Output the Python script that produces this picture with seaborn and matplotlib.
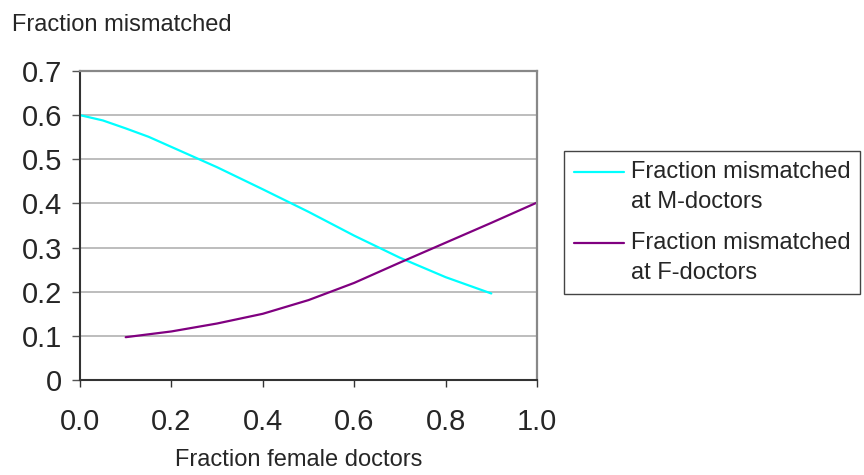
import numpy as np
import pandas as pd
import matplotlib
matplotlib.use("Agg")
import matplotlib.pyplot as plt
import seaborn as sns

# ---- data ----
x_male = [0.0, 0.05, 0.1, 0.15, 0.2, 0.25, 0.3, 0.4, 0.5, 0.6, 0.7, 0.8, 0.9]
mismatch_male = [0.600, 0.588, 0.570, 0.551, 0.528, 0.505, 0.482, 0.432, 0.381, 0.327, 0.277, 0.233, 0.196]
x_female = [0.1, 0.2, 0.3, 0.4, 0.5, 0.6, 0.7, 0.8, 0.9, 1.0]
mismatch_female = [0.097, 0.110, 0.128, 0.150, 0.181, 0.220, 0.266, 0.311, 0.356, 0.402]
series_labels = ["Fraction mismatched\nat M-doctors", "Fraction mismatched\nat F-doctors"]
x_ticks = [0.0, 0.2, 0.4, 0.6, 0.8, 1.0]
x_tick_labels = ["0.0", "0.2", "0.4", "0.6", "0.8", "1.0"]
y_ticks = [0.0, 0.1, 0.2, 0.3, 0.4, 0.5, 0.6, 0.7]
y_tick_labels = ["0", "0.1", "0.2", "0.3", "0.4", "0.5", "0.6", "0.7"]
title_text = "Fraction mismatched"
x_label = "Fraction female doctors"

sns.set_style("white")
plt.rcParams["font.family"] = ["Liberation Sans", "DejaVu Sans"]

df_m = pd.DataFrame({"x": x_male, "y": mismatch_male})
df_f = pd.DataFrame({"x": x_female, "y": mismatch_female})

fig = plt.figure(figsize=(8.64, 4.75), dpi=100)
W, H = 864, 475
ax = fig.add_axes([80 / W, 1 - 380 / H, 457 / W, 309 / H])

sns.lineplot(data=df_m, x="x", y="y", ax=ax, color="#00FFFF", linewidth=1.6, label=series_labels[0])
sns.lineplot(data=df_f, x="x", y="y", ax=ax, color="#800080", linewidth=1.6, label=series_labels[1])

ax.set_xlim(0, 1)
ax.set_ylim(0, 0.7)
ax.set_xticks(x_ticks)
ax.set_xticklabels(x_tick_labels)
ax.set_yticks(y_ticks)
ax.set_yticklabels(y_tick_labels)
ax.set_ylabel("")
ax.set_xlabel(x_label, fontsize=17, labelpad=9)
ax.xaxis.label.set_x((299 - 80) / 457)
ax.grid(axis="y", color="#b8b8b8", linewidth=1.3)
ax.set_axisbelow(True)
for s in ["left", "bottom"]:
    ax.spines[s].set_color("#333333")
    ax.spines[s].set_linewidth(1.5)
for s in ["top", "right"]:
    ax.spines[s].set_color("#888888")
    ax.spines[s].set_linewidth(1.6)
ax.tick_params(axis="y", direction="out", length=6, width=1, color="#555555",
               labelsize=21, pad=7, left=True)
ax.tick_params(axis="x", direction="out", length=5, width=1, color="#333333",
               labelsize=21, pad=15.5, bottom=True)

fig.text(12 / W, 1 - 30.7 / H, title_text, fontsize=17, ha="left", va="baseline")

handles, labels = ax.get_legend_handles_labels()
if ax.legend_ is not None:
    ax.legend_.remove()
LS = 1.47
leg = fig.legend(handles, labels, loc="upper left",
                 bbox_to_anchor=(564 / W, 1 - 151 / H), bbox_transform=fig.transFigure,
                 borderaxespad=0, frameon=True, fancybox=False, framealpha=1,
                 edgecolor="#444444", fontsize=17, borderpad=0.42,
                 handlelength=2.1, handletextpad=0.3, labelspacing=0.8)
leg.get_frame().set_linewidth(1.0)
for t in leg.get_texts():
    t.set_linespacing(LS)
for l in leg.get_lines():
    l.set_linewidth(1.6)

# align each legend line with the first line of its (two-line) label
fig.canvas.draw()
r = fig.canvas.get_renderer()
for line, text in zip(leg.get_lines(), leg.get_texts()):
    tb = text.get_window_extent(r)
    lb = line.get_window_extent(r)
    line_y = 0.5 * (lb.y0 + lb.y1)
    target = tb.y1 - 11.0
    delta_pt = (target - line_y) * 72.0 / fig.dpi
    line.set_ydata(np.asarray(line.get_ydata(), dtype=float) + delta_pt)

fig.savefig("out.png", dpi=100)
